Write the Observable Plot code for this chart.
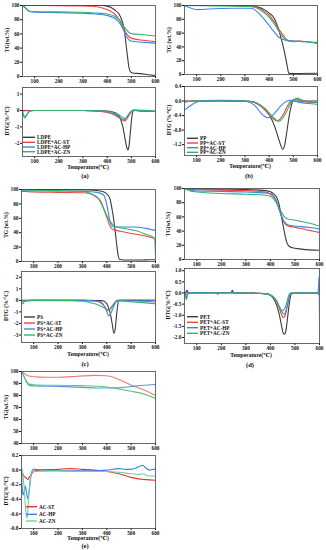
<!DOCTYPE html>
<html><head><meta charset="utf-8">
<script src="https://cdn.jsdelivr.net/npm/d3@7"></script>
<script src="https://cdn.jsdelivr.net/npm/@observablehq/plot@0.6"></script>
<style>
body{margin:0;background:#fff;}
#root{position:relative;width:326px;height:550px;overflow:hidden;background:#fff;}
#root svg{position:absolute;overflow:visible;}
</style></head><body><div id="root"></div>
<script>
// ---------- tick labels ----------
const xTicks = [100, 200, 300, 400, 500, 600];
const tgTicks = [0, 20, 40, 60, 80, 100];
const aDtgTicks = [1, 0, -1, -2];
const bDtgTicks = [0.4, 0.0, -0.4, -0.8, -1.2];
const cDtgTicks = [2, 1, 0, -1, -2, -3];
const dDtgTicks = [1.0, 0.5, 0.0, -0.5, -1.0, -1.5, -2.0];
const eTgTicks = [40, 50, 60, 70, 80, 90, 100];
const eDtgTicks = [0.2, 0.0, -0.2, -0.4, -0.6, -0.8];

// ---------- series names ----------
const aNames = ["LDPE", "LDPE+AC-ST", "LDPE+AC-HP", "LDPE+AC-ZN"];
const bNames = ["PP", "PP+AC-ST", "PP+AC-HP", "PP+AC-ZN"];
const cNames = ["PS", "PS+AC-ST", "PS+AC-HP", "PS+AC-ZN"];
const dNames = ["PET", "PET+AC-ST", "PET+AC-HP", "PET+AC-ZN"];
const eNames = ["AC-ST", "AC-HP", "AC-ZN"];

// ---------- (a) LDPE ----------
const a_TG_base = [[50,100],[300,100.3],[380,100],[400,99],[415,97.5],[430,94],[449,88],[460,80],[470,68],[476,52],[481,37],[486,23],[490,13],[496,7],[504,5],[538,4],[570,2.5],[600,1.3]];
const a_TG_ST = [[50,100],[100,100],[200,99.8],[300,99.5],[340,99],[370,97.5],[390,95.5],[410,92.5],[431,88],[450,80],[470,66],[490,56],[510,53],[550,51],[600,49]];
const a_TG_HP = [[50,100],[60,97],[70,93.5],[80,91.5],[100,90.5],[200,90],[300,89],[350,88],[400,86],[431,82],[450,76],[467,66],[480,56],[495,50.5],[520,49],[560,48],[600,47]];
const a_TG_ZN = [[50,100],[60,97.5],[70,94],[80,92],[100,91.5],[200,91],[300,90.5],[350,89.5],[400,88],[431,85],[450,80],[470,70],[490,62],[505,60],[530,59.5],[570,58.2],[600,57]];
const a_DTG_base = [[50,0],[300,0],[400,-0.03],[420,-0.08],[440,-0.2],[455,-0.5],[465,-1.0],[475,-1.8],[482,-2.3],[486,-2.4],[490,-2.2],[495,-1.5],[500,-0.7],[505,-0.15],[510,0],[550,-0.03],[600,-0.05]];
const a_DTG_ST = [[50,-0.02],[100,0],[300,0],[350,-0.03],[400,-0.12],[430,-0.28],[450,-0.45],[465,-0.6],[472,-0.63],[480,-0.55],[490,-0.3],[500,-0.08],[510,0.03],[530,-0.03],[600,-0.06]];
const a_DTG_HP = [[50,-0.1],[55,-0.35],[60,-0.45],[65,-0.35],[72,-0.15],[80,-0.03],[100,0],[300,0],[380,-0.05],[420,-0.15],[445,-0.33],[460,-0.5],[468,-0.55],[476,-0.5],[488,-0.25],[500,-0.05],[510,0.02],[550,-0.02],[600,-0.05]];
const a_DTG_ZN = [[50,-0.05],[55,-0.3],[62,-0.35],[70,-0.2],[80,-0.05],[95,0],[300,0],[400,-0.05],[430,-0.15],[450,-0.28],[465,-0.42],[475,-0.48],[485,-0.35],[495,-0.12],[505,0],[520,0.02],[600,-0.03]];

// ---------- (b) PP ----------
const b_TG_base = [[50,100],[250,100],[320,99.5],[350,98],[380,94],[400,89],[420,82],[435,70],[450,52],[465,30],[475,12],[481,2],[490,1.5],[600,1.8]];
const b_TG_ST = [[50,100],[200,100],[300,99.5],[340,98.5],[370,94],[400,86],[420,77],[440,66],[460,56],[475,50],[490,48.5],[520,48.5],[560,47.5],[600,45.5]];
const b_TG_HP = [[50,100],[70,97],[90,94.5],[110,94],[150,95],[250,96],[320,96],[340,94],[360,88],[380,80],[400,71],[420,62],[440,54],[455,51],[470,49.5],[500,48.5],[550,47.5],[600,45]];
const b_TG_ZN = [[50,100],[200,99.5],[300,99],[340,97.5],[370,92],[400,83],[420,74],[440,63],[460,53],[480,48.5],[500,47.5],[530,48],[570,47],[600,46.5]];
const b_DTG_base = [[50,0],[200,0],[320,-0.01],[350,-0.06],[380,-0.2],[400,-0.38],[420,-0.65],[435,-0.95],[448,-1.22],[456,-1.33],[463,-1.25],[472,-0.9],[482,-0.45],[492,-0.12],[500,0],[550,0],[600,0]];
const b_DTG_ST = [[50,-0.03],[100,0],[300,0],[330,-0.02],[360,-0.12],[390,-0.3],[410,-0.45],[425,-0.53],[435,-0.55],[445,-0.5],[460,-0.35],[475,-0.15],[490,0],[505,0.04],[515,0.05],[530,0],[560,-0.03],[600,-0.04]];
const b_DTG_HP = [[50,-0.25],[70,-0.15],[90,-0.06],[120,0.01],[200,0.02],[280,0.01],[310,-0.02],[340,-0.12],[360,-0.28],[380,-0.42],[395,-0.46],[410,-0.42],[430,-0.28],[450,-0.12],[470,-0.01],[490,0.02],[520,-0.03],[560,-0.07],[600,-0.09]];
const b_DTG_ZN = [[50,-0.02],[100,0],[300,0],[330,-0.02],[360,-0.1],[390,-0.25],[410,-0.4],[430,-0.52],[440,-0.56],[450,-0.52],[465,-0.38],[480,-0.18],[495,0],[508,0.06],[518,0.08],[530,0.04],[560,-0.02],[600,-0.04]];

// ---------- (c) PS ----------
const c_TG_base = [[50,100],[200,100],[330,99.5],[360,98.5],[388,96.5],[405,92],[415,85],[422,72],[429,57],[436,38],[442,20],[447,8],[452,3],[470,2],[520,2],[560,2.3],[600,2.5]];
const c_TG_ST = [[50,97.5],[100,96.5],[200,96],[300,95.5],[334,94],[355,90],[375,84],[395,66],[405,57],[415,48],[430,44],[456,42],[500,39],[550,36],[600,31.5]];
const c_TG_HP = [[50,98],[100,98],[200,98],[300,97.5],[360,96],[388,92],[402,76],[415,53],[425,48.5],[440,48],[480,48],[517,48],[560,46],[600,43]];
const c_TG_ZN = [[50,99.5],[100,99],[200,98.5],[300,97.5],[320,96],[340,93],[361,89],[375,82],[388,73],[400,64],[415,55],[430,49.5],[442,48],[480,45.5],[517,43],[560,38],[596,32],[600,8]];
const c_DTG_base = [[50,0],[300,0],[380,-0.02],[395,-0.15],[405,-0.5],[415,-1.2],[422,-2.0],[429,-2.85],[435,-2.4],[440,-1.3],[445,-0.4],[449,0],[500,0],[600,0]];
const c_DTG_ST = [[50,-0.05],[100,0],[300,0],[350,-0.05],[375,-0.2],[390,-0.5],[400,-0.8],[406,-0.9],[415,-0.75],[425,-0.45],[435,-0.15],[442,0],[500,-0.05],[550,-0.08],[600,-0.15]];
const c_DTG_HP = [[50,-0.05],[100,0],[300,0],[360,-0.05],[380,-0.2],[395,-0.7],[403,-1.15],[409,-1.35],[416,-1.15],[425,-0.7],[435,-0.25],[445,0],[500,0.02],[600,0]];
const c_DTG_ZN = [[50,-0.1],[55,-0.3],[62,-0.1],[80,0],[250,-0.02],[300,-0.08],[330,-0.2],[361,-0.35],[385,-0.6],[400,-0.78],[408,-0.8],[418,-0.6],[428,-0.3],[440,-0.05],[460,-0.05],[500,-0.12],[550,-0.2],[600,-0.3]];

// ---------- (d) PET ----------
const d_TG_base = [[50,100],[100,99.5],[200,99],[300,98.5],[380,97],[400,95.5],[415,92],[425,88],[435,78],[445,60],[455,42],[465,26],[475,19],[490,16.5],[520,15],[560,13.5],[600,13]];
const d_TG_ST = [[50,100],[80,98.5],[200,97.5],[300,97],[380,95],[400,92],[420,85],[440,66],[455,53],[470,47.5],[490,46],[520,44],[560,41],[600,38]];
const d_TG_HP = [[50,100],[80,97],[100,96.5],[200,96],[300,95],[400,93],[420,86],[440,66],[455,54],[470,49],[490,47.5],[520,46.5],[560,45],[600,43]];
const d_TG_ZN = [[50,100],[70,97],[100,95],[200,93],[300,92],[380,90.5],[400,89],[420,82],[440,70],[455,61],[470,57],[490,56],[520,54],[560,51],[600,47]];
const d_DTG_base = [[50,0],[55,0.02],[60,0.12],[65,0.02],[80,0],[150,0.01],[240,0.02],[245,0.12],[250,0.02],[300,0],[380,-0.03],[400,-0.1],[420,-0.4],[435,-0.9],[445,-1.45],[453,-1.82],[458,-1.85],[463,-1.7],[470,-1.1],[478,-0.4],[485,-0.05],[500,0],[590,0],[595,-0.05],[600,0.02]];
const d_DTG_ST = [[50,0.02],[55,-0.15],[58,-0.25],[62,-0.05],[80,0],[180,0],[185,-0.06],[190,0],[300,0],[380,-0.03],[400,-0.1],[420,-0.3],[435,-0.65],[445,-0.95],[452,-1.1],[458,-1.05],[465,-0.8],[473,-0.35],[480,-0.08],[490,0],[590,0],[600,-0.05]];
const d_DTG_HP = [[50,0],[55,-0.1],[60,0],[80,0.02],[200,0.01],[300,0],[390,-0.05],[410,-0.15],[425,-0.35],[440,-0.7],[450,-0.9],[456,-0.95],[462,-0.85],[470,-0.5],[478,-0.15],[486,0],[590,0],[595,0.05],[598,0.75],[600,-1.3]];
const d_DTG_ZN = [[50,0],[55,-0.2],[58,-0.3],[62,-0.05],[80,0],[300,0],[390,-0.05],[410,-0.15],[425,-0.35],[438,-0.65],[448,-0.8],[455,-0.75],[465,-0.5],[472,-0.2],[480,0],[590,0],[600,-0.1]];

// ---------- (e) AC ----------
const e_TG_ST = [[50,100],[60,98.5],[70,97],[85,96],[120,95.3],[200,95.2],[280,96],[350,96.8],[400,96.5],[430,95],[460,92.5],[490,89.5],[520,87],[560,84],[600,80]];
const e_TG_HP = [[50,100],[60,96],[70,91.5],[80,88.5],[100,88],[200,87.5],[300,86.8],[360,86.2],[400,86.3],[450,86.5],[500,87.5],[550,88.5],[600,89.2]];
const e_TG_ZN = [[50,99.5],[60,96],[70,92],[80,89.5],[100,89],[200,88.5],[300,88.2],[380,87.5],[420,86.5],[460,85],[500,83.5],[540,82],[570,80],[600,77.5]];
const e_DTG_ST = [[50,0.02],[55,-0.05],[62,-0.09],[70,-0.11],[76,-0.13],[82,-0.1],[90,-0.06],[100,-0.02],[120,0],[200,0.01],[250,0.02],[300,0.01],[350,0],[400,-0.02],[450,-0.05],[500,-0.1],[530,-0.12],[560,-0.13],[600,-0.14]];
const e_DTG_HP = [[50,-0.02],[53,-0.25],[57,-0.34],[61,-0.3],[66,-0.22],[71,-0.32],[76,-0.39],[81,-0.3],[88,-0.1],[95,0],[100,0.01],[150,0],[250,-0.01],[350,-0.01],[400,0],[450,0.02],[480,0.01],[500,0.01],[520,0.03],[540,0.06],[548,0.065],[560,0.03],[575,0],[590,0.01],[600,0.01]];
const e_DTG_ZN = [[50,0.01],[55,-0.05],[60,-0.2],[65,-0.45],[70,-0.62],[73,-0.66],[77,-0.5],[82,-0.25],[90,-0.05],[100,-0.02],[200,-0.01],[300,-0.02],[400,-0.02],[450,-0.03],[500,-0.05],[530,-0.06],[550,-0.05],[570,-0.08],[600,-0.08]];

// ---------- colours ----------
const C4 = ["#3b3b3b", "#f04343", "#3d84e6", "#2fb36f"];
const C3tg = ["#f07a74", "#5b95e6", "#5cc487"];
const C3dtg = ["#e8312c", "#3c82e2", "#74cf9c"];

const FONT = "'Liberation Serif', 'DejaVu Serif', serif";
const root = document.getElementById("root");

function panel({sl, fl, fr, ft, fb, yDomain, yTicks, yFmt, series, colors, sw = 1.1}) {
  const mt = 4, mb = 9;
  const svg = Plot.plot({
    width: 163,
    height: fb - ft + mt + mb,
    marginLeft: fl - sl,
    marginRight: sl + 163 - fr,
    marginTop: mt,
    marginBottom: mb,
    x: {domain: [50, 600], ticks: xTicks, tickSize: 2, tickPadding: 1, label: null, tickFormat: d => String(d)},
    y: {domain: yDomain, ticks: yTicks, tickSize: 2, tickPadding: 1, label: null, tickFormat: yFmt},
    style: {fontFamily: FONT, fontSize: "5.3px", fontWeight: "bold", color: "#111", background: "transparent"},
    marks: [
      ...series.map((s, i) => Plot.line(s, {x: d => d[0], y: d => d[1], stroke: colors[i], strokeWidth: sw, curve: "monotone-x", clip: true})),
      Plot.frame({stroke: "#444", strokeWidth: 0.8})
    ]
  });
  svg.style.left = sl + "px";
  svg.style.top = (ft - mt) + "px";
  root.appendChild(svg);
}

const fInt = d => String(d);
const f1 = d => d.toFixed(1);

// (a)
panel({sl: 0, fl: 22, fr: 155, ft: 5, fb: 76, yDomain: [0, 100], yTicks: tgTicks, yFmt: fInt, series: [a_TG_base, a_TG_ST, a_TG_HP, a_TG_ZN], colors: C4});
panel({sl: 0, fl: 22, fr: 155, ft: 87, fb: 156, yDomain: [-2.8, 1.4], yTicks: aDtgTicks, yFmt: fInt, series: [a_DTG_base, a_DTG_ST, a_DTG_HP, a_DTG_ZN], colors: C4});
// (b)
panel({sl: 163, fl: 184, fr: 317, ft: 5, fb: 74, yDomain: [0, 100], yTicks: tgTicks, yFmt: fInt, series: [b_TG_base, b_TG_ST, b_TG_HP, b_TG_ZN], colors: C4});
panel({sl: 163, fl: 184, fr: 317, ft: 86, fb: 155, yDomain: [-1.5, 0.4], yTicks: bDtgTicks, yFmt: f1, series: [b_DTG_base, b_DTG_ST, b_DTG_HP, b_DTG_ZN], colors: C4});
// (c)
panel({sl: 0, fl: 21, fr: 155, ft: 189, fb: 261, yDomain: [0, 100], yTicks: tgTicks, yFmt: fInt, series: [c_TG_base, c_TG_ST, c_TG_HP, c_TG_ZN], colors: C4});
panel({sl: 0, fl: 21, fr: 155, ft: 271, fb: 342, yDomain: [-3.65, 2.5], yTicks: cDtgTicks, yFmt: fInt, series: [c_DTG_base, c_DTG_ST, c_DTG_HP, c_DTG_ZN], colors: C4});
// (d)
panel({sl: 163, fl: 184, fr: 319, ft: 188, fb: 259, yDomain: [0, 100], yTicks: tgTicks, yFmt: fInt, series: [d_TG_base, d_TG_ST, d_TG_HP, d_TG_ZN], colors: C4});
panel({sl: 163, fl: 184, fr: 319, ft: 268, fb: 343, yDomain: [-2.27, 1.1], yTicks: dDtgTicks, yFmt: f1, series: [d_DTG_base, d_DTG_ST, d_DTG_HP, d_DTG_ZN], colors: C4});
// (e)
panel({sl: 0, fl: 21, fr: 155, ft: 371, fb: 443, yDomain: [40, 100], yTicks: eTgTicks, yFmt: fInt, series: [e_TG_ST, e_TG_HP, e_TG_ZN], colors: C3tg});
panel({sl: 0, fl: 21, fr: 155, ft: 455, fb: 528, yDomain: [-0.8, 0.2], yTicks: eDtgTicks, yFmt: f1, series: [e_DTG_ST, e_DTG_HP, e_DTG_ZN], colors: C3dtg});

// ---------- overlay text: axis titles, captions, legends ----------
const ov = d3.select(root).append("svg")
  .attr("width", 326).attr("height", 550)
  .style("left", "0px").style("top", "0px")
  .attr("font-family", FONT).attr("font-weight", "bold").attr("fill", "#111");

const yLabels = [
  [7, 40, "TG(wt.%)"], [7, 121, "DTG(%/℃)"],
  [169, 40, "TG (wt.%)"], [169, 120, "DTG (%/℃)"],
  [6, 225, "TG (wt.%)"], [6, 306, "DTG (%/°C)"],
  [168, 224, "TG(wt.%)"], [168, 305, "DTG(%/℃)"],
  [6, 407, "TG(wt.%)"], [6, 491, "DTG(%/℃)"]
];
yLabels.forEach(([x, y, t]) => ov.append("text")
  .attr("transform", `translate(${x},${y}) rotate(-90)`)
  .attr("text-anchor", "middle").attr("dominant-baseline", "central")
  .attr("font-size", "5.5px").text(t));

const xLabels = [[88, 167], [250, 166], [88, 354], [251, 355], [88, 538]];
xLabels.forEach(([x, y]) => ov.append("text").attr("x", x).attr("y", y)
  .attr("text-anchor", "middle").attr("dominant-baseline", "central")
  .attr("font-size", "5.6px").text("Temperature(℃)"));

const captions = [[85, 175, "(a)"], [249, 175, "(b)"], [85, 363, "(c)"], [250, 364, "(d)"], [85, 545, "(e)"]];
captions.forEach(([x, y, t]) => ov.append("text").attr("x", x).attr("y", y)
  .attr("text-anchor", "middle").attr("dominant-baseline", "central")
  .attr("font-size", "6.5px").text(t));

function legend(x0, x1, ys, names, colors) {
  names.forEach((n, i) => {
    ov.append("line").attr("x1", x0).attr("x2", x1).attr("y1", ys[i]).attr("y2", ys[i])
      .attr("stroke", colors[i]).attr("stroke-width", 1.4);
    ov.append("text").attr("x", x1 + 2).attr("y", ys[i]).attr("dominant-baseline", "central")
      .attr("font-size", "5.2px").text(n);
  });
}
legend(23, 35, [137.3, 142.3, 147, 151.7], aNames, C4);
legend(187, 198, [138.3, 143, 147.7, 152.3], bNames, C4);
legend(24, 35, [317, 323, 329, 335], cNames, C4);
legend(187, 198, [316.7, 322.3, 327.7, 333.3], dNames, C4);
legend(26, 37, [506.7, 514.3, 521], eNames, C3dtg);
</script>
</body></html>
